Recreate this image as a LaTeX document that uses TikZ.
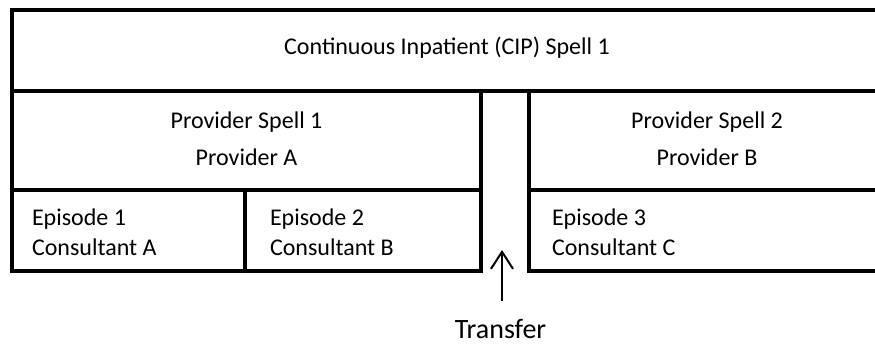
\documentclass[tikz,border=0pt]{standalone}
\usepackage{fontspec}
\setmainfont{Carlito}
\usetikzlibrary{arrows.meta}
\begin{document}
\begin{tikzpicture}[x=1pt,y=-1pt,
  box/.style={draw=black,line width=4pt,rectangle,inner sep=0pt,outer sep=0pt,anchor=north west},
  lbl/.style={inner sep=0pt,outer sep=0pt,font=\fontsize{24}{29.3}\selectfont},
  biglbl/.style={inner sep=0pt,outer sep=0pt,font=\fontsize{28}{34}\selectfont},
  arrowline/.style={line width=2pt,-{Straight Barb[length=17pt,width=22pt]}}]
\useasboundingbox (0,0) rectangle (875,346);
\clip (0,0) rectangle (875,346);
% boxes
\node[box,minimum width=870pt,minimum height=81pt] (cip) at (12,9.5) {};
\node[box,minimum width=469pt,minimum height=99.5pt] (ps1) at (12,90.5) {};
\node[box,minimum width=356pt,minimum height=99.5pt] (ps2) at (529,90.5) {};
\node[box,minimum width=233pt,minimum height=80.5pt] (e1) at (12,190) {};
\node[box,minimum width=236pt,minimum height=81pt] (e2) at (245,190) {};
\node[box,minimum width=356pt,minimum height=80.5pt] (e3) at (529,190) {};
% texts
\node[lbl,anchor=base] (cipt) at (447,54) {Continuous Inpatient (CIP) Spell 1};
\node[lbl,anchor=base] (ps1a) at (246.5,128) {Provider Spell 1};
\node[lbl,anchor=base] (ps1b) at (246.5,165) {Provider A};
\node[lbl,anchor=base] (ps2a) at (707,128) {Provider Spell 2};
\node[lbl,anchor=base] (ps2b) at (707,165) {Provider B};
\node[lbl,anchor=base west] (e1a) at (32,225) {Episode 1};
\node[lbl,anchor=base west] (e1b) at (32,255) {Consultant A};
\node[lbl,anchor=base west] (e2a) at (270,225) {Episode 2};
\node[lbl,anchor=base west] (e2b) at (270,255) {Consultant B};
\node[lbl,anchor=base west] (e3a) at (552,225) {Episode 3};
\node[lbl,anchor=base west] (e3b) at (552,255) {Consultant C};
\node[biglbl,anchor=base] (transfer) at (500.5,338) {Transfer};
% arrow
\coordinate (tail) at (502,301);
\coordinate (tip) at (502,250);
\draw[arrowline] (tail) -- (tip);
\end{tikzpicture}
\end{document}
